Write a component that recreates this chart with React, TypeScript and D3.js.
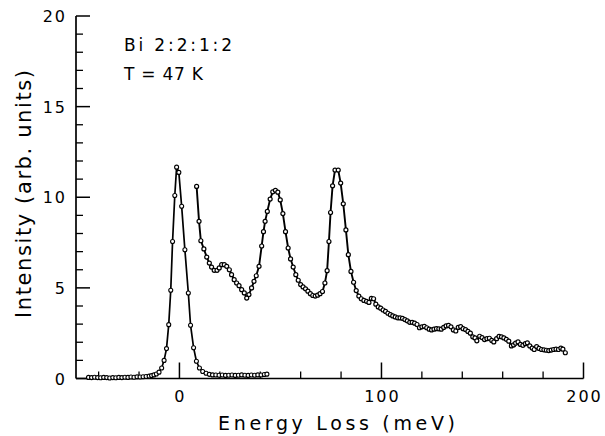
import React from "react";
import * as d3 from "d3";

// Elastic peak series: [energy loss (meV), intensity]
const elasticX = [-45, -43.5, -42, -40.5, -39, -37.5, -36, -34.5, -33, -31.5, -30, -28.5, -27, -25.5, -24, -22.5, -21, -19.5, -18, -16.5, -15, -13.8, -12.6, -11.4, -10.1, -8.8, -7.6, -6.4, -5.3, -4.3, -3.4, -2.3, -1.4, -0.3, 1.1, 2.7, 4.4, 5.5, 7.0, 8.4, 9.9, 11.5, 13.2, 14.8, 16.4, 18, 19.6, 21.2, 22.8, 24.4, 26, 27.6, 29.2, 30.8, 32.4, 34, 35.6, 37.2, 38.8, 40.4, 42, 43.3];
const elasticY = [0.06, 0.05, 0.07, 0.05, 0.04, 0.06, 0.05, 0.03, 0.05, 0.04, 0.06, 0.05, 0.07, 0.06, 0.08, 0.07, 0.09, 0.08, 0.1, 0.11, 0.13, 0.16, 0.2, 0.25, 0.35, 0.58, 1.0, 1.65, 2.97, 4.87, 7.56, 10.1, 11.66, 11.37, 9.5, 7.1, 4.72, 2.94, 1.7, 0.95, 0.58, 0.39, 0.29, 0.23, 0.2, 0.19, 0.18, 0.19, 0.17, 0.18, 0.19, 0.17, 0.18, 0.2, 0.18, 0.17, 0.19, 0.18, 0.2, 0.19, 0.22, 0.24];

// Loss spectrum series
const lossX = [8.5, 9.7, 10.6, 12.1, 13.5, 14.8, 15.9, 17.2, 18.6, 19.7, 20.9, 22.2, 23.4, 24.7, 25.8, 27.1, 28.3, 29.5, 30.8, 32.1, 33.3, 34.4, 35.7, 36.9, 38, 39.4, 40.7, 41.6, 42.4, 43.5, 44.9, 46.2, 47.5, 48.7, 49.9, 51.2, 52.5, 53.8, 55, 56.3, 57.6, 58.8, 60, 61.2, 62.4, 63.6, 64.8, 66, 67.2, 68.4, 69.6, 70.8, 72, 73.1, 74, 74.8, 75.8, 77, 78.6, 79.8, 81.1, 82.4, 83.6, 84.9, 86.2, 87.5, 88.8, 90, 91.3, 92.6, 93.8, 95, 96.1, 97.2, 98.4, 99.6, 100.8, 102, 103.2, 104.4, 105.6, 106.8, 108, 109.2, 110.4, 111.6, 112.8, 114, 115.2, 116.4, 117.6, 118.8, 120, 121.2, 122.4, 123.6, 124.8, 126, 127.2, 128.4, 129.6, 130.8, 132, 133.2, 134.4, 135.6, 136.8, 138, 139.2, 140.4, 141.6, 142.8, 144, 145.2, 146.3, 147.2, 148.6, 149.8, 151, 152.2, 153.4, 154.6, 155.6, 157, 158.2, 159.4, 160.6, 161.8, 163, 164.3, 165.4, 166.4, 167.6, 168.8, 170, 171.2, 172.2, 173.4, 174.6, 175.6, 176.8, 178, 179.2, 180.4, 181.6, 182.8, 184, 185.2, 186.4, 187.6, 188.8, 189.8, 191];
const lossY = [10.6, 8.67, 7.6, 7.15, 6.7, 6.37, 6.15, 5.97, 5.97, 6.1, 6.28, 6.28, 6.19, 6.0, 5.73, 5.45, 5.27, 5.12, 4.9, 4.72, 4.44, 4.63, 5.0, 5.36, 5.67, 6.19, 7.31, 8.1, 8.67, 9.22, 9.9, 10.3, 10.38, 10.28, 9.85, 9.1, 8.1, 7.2, 6.6, 6.15, 5.73, 5.42, 5.18, 5.05, 4.95, 4.82, 4.68, 4.58, 4.55, 4.6, 4.68, 4.8, 5.27, 5.95, 7.56, 9.16, 10.63, 11.5, 11.5, 10.78, 9.64, 8.2, 6.83, 5.91, 5.31, 4.85, 4.55, 4.4, 4.31, 4.26, 4.2, 4.42, 4.4, 4.1, 3.95, 3.88, 3.78, 3.7, 3.6, 3.52, 3.45, 3.4, 3.35, 3.34, 3.32, 3.25, 3.18, 3.1, 3.1, 3.05, 2.98, 2.8, 2.85, 2.88, 2.8, 2.72, 2.68, 2.72, 2.75, 2.74, 2.72, 2.82, 2.9, 2.93, 2.85, 2.68, 2.62, 2.82, 2.86, 2.75, 2.7, 2.6, 2.5, 2.3, 2.24, 2.08, 2.33, 2.26, 2.15, 2.2, 2.22, 2.1, 2.02, 2.2, 2.32, 2.3, 2.24, 2.16, 2.06, 1.8, 1.85, 1.95, 2.02, 1.88, 1.83, 1.92, 1.97, 1.8, 1.68, 1.6, 1.76, 1.66, 1.6, 1.58, 1.56, 1.54, 1.57, 1.6, 1.62, 1.6, 1.68, 1.62, 1.42];

const yMajorTicks = [0, 5, 10, 15, 20];
const yMinorTicks = [1, 2, 3, 4, 6, 7, 8, 9, 11, 12, 13, 14, 16, 17, 18, 19];
const xMajorTicks = [0, 100, 200];
const xMinorTicks = [-40, -20, 20, 40, 60, 80, 120, 140, 160, 180];
const xLabelTicks = [0, 100, 200];

const xTitle = "Energy Loss (meV)";
const yTitle = "Intensity (arb. units)";
const note1 = "Bi 2:2:1:2";
const note2 = "T = 47 K";

const W = 605;
const H = 436;
const FONT = "'DejaVu Sans', 'Liberation Sans', sans-serif";

export default function App() {
  const x = d3.scaleLinear().domain([-51.2, 200]).range([76, 583.5]);
  const y = d3.scaleLinear().domain([0, 20]).range([378.5, 16]);

  const elastic = elasticX.map((v, i) => [v, elasticY[i]] as [number, number]);
  const loss = lossX.map((v, i) => [v, lossY[i]] as [number, number]);

  const line = d3
    .line<[number, number]>()
    .x((d) => x(d[0]))
    .y((d) => y(d[1]));

  const x0 = x(-51.2);
  const y0 = y(0);

  return (
    <svg
      width={W}
      height={H}
      style={{ position: "absolute", left: 0, top: 0, background: "#fff" }}
      fontFamily={FONT}
    >
      <rect x={0} y={0} width={W} height={H} fill="#fff" />
      {/* axes */}
      <line x1={x0} y1={y(20)} x2={x0} y2={y0} stroke="#000" strokeWidth={1.7} />
      <line x1={x0} y1={y0} x2={x(200)} y2={y0} stroke="#000" strokeWidth={1.7} />
      {yMajorTicks.map((t) => (
        <line key={"ym" + t} x1={x0} x2={x0 + 14} y1={y(t)} y2={y(t)} stroke="#000" strokeWidth={1.5} />
      ))}
      {yMinorTicks.map((t) => (
        <line key={"yn" + t} x1={x0} x2={x0 + 7} y1={y(t)} y2={y(t)} stroke="#000" strokeWidth={1.3} />
      ))}
      {xMajorTicks.map((t) => (
        <line key={"xm" + t} x1={x(t)} x2={x(t)} y1={y0} y2={y0 - 16} stroke="#000" strokeWidth={1.5} />
      ))}
      {xMinorTicks.map((t) => (
        <line key={"xn" + t} x1={x(t)} x2={x(t)} y1={y0} y2={y0 - 7} stroke="#000" strokeWidth={1.3} />
      ))}
      {yMajorTicks.map((t) => (
        <text
          key={"yl" + t}
          x={67}
          y={y(t) + 6}
          textAnchor="end"
          fontSize={16}
          letterSpacing={2}
          fill="#000"
        >
          {t}
        </text>
      ))}
      {xLabelTicks.map((t) => (
        <text key={"xl" + t} x={x(t) + 1} y={402} textAnchor="middle" fontSize={16} letterSpacing={2} fill="#000">
          {t}
        </text>
      ))}
      <text x={218} y={430} fontSize={19} textLength={237} lengthAdjust="spacing" fill="#000">
        {xTitle}
      </text>
      <text
        transform="translate(31,318) rotate(-90)"
        x={0}
        y={0}
        fontSize={21}
        textLength={248}
        lengthAdjust="spacing"
        fill="#000"
      >
        {yTitle}
      </text>
      <text x={124} y={51} fontSize={17} textLength={108} lengthAdjust="spacing" fill="#000">
        {note1}
      </text>
      <text x={124} y={80} fontSize={17} textLength={79} lengthAdjust="spacing" fill="#000">
        {note2}
      </text>
      {/* series */}
      <path d={line(elastic) || ""} fill="none" stroke="#000" strokeWidth={1.7} />
      <path d={line(loss) || ""} fill="none" stroke="#000" strokeWidth={1.9} />
      {elastic.map((d, i) => (
        <circle key={"e" + i} cx={x(d[0])} cy={y(d[1])} r={2} fill="#fff" stroke="#000" strokeWidth={1.1} />
      ))}
      {loss.map((d, i) => (
        <circle key={"l" + i} cx={x(d[0])} cy={y(d[1])} r={2} fill="#fff" stroke="#000" strokeWidth={1.2} />
      ))}
    </svg>
  );
}
